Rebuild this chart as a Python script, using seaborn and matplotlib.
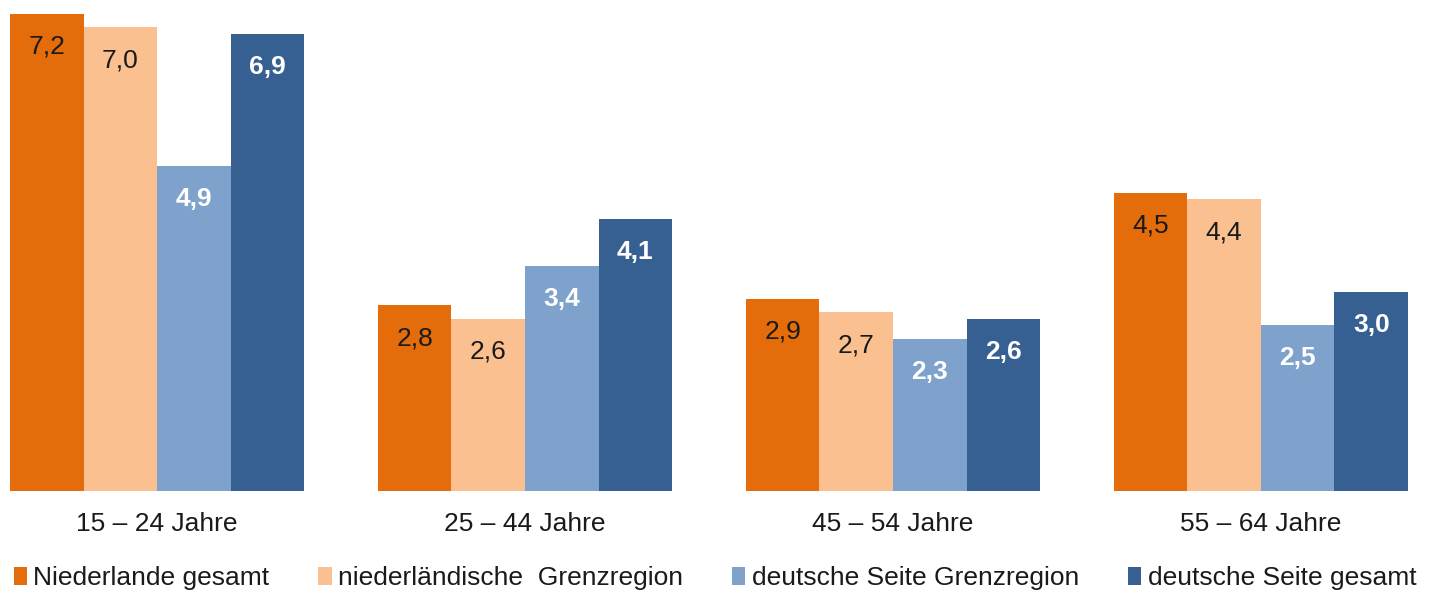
import pandas as pd
import numpy as np
import matplotlib
matplotlib.use("Agg")
import matplotlib.pyplot as plt
import seaborn as sns
from matplotlib.patches import Patch

# data
groups = ["15 – 24 Jahre", "25 – 44 Jahre", "45 – 54 Jahre", "55 – 64 Jahre"]
series = ["Niederlande gesamt", "niederländische  Grenzregion",
          "deutsche Seite Grenzregion", "deutsche Seite gesamt"]
nl_gesamt = [7.2, 2.8, 2.9, 4.5]
nl_grenz = [7.0, 2.6, 2.7, 4.4]
de_grenz = [4.9, 3.4, 2.3, 2.5]
de_gesamt = [6.9, 4.1, 2.6, 3.0]
colors = ["#E46C0A", "#FAC090", "#7EA2CC", "#376092"]
label_colors = ["#1a1a1a", "#1a1a1a", "white", "white"]
label_weights = ["normal", "normal", "bold", "bold"]

rows = []
for s, vals in zip(series, [nl_gesamt, nl_grenz, de_grenz, de_gesamt]):
    for g, v in zip(groups, vals):
        rows.append({"group": g, "series": s, "value": v})
df = pd.DataFrame(rows)

sns.set_style("white")
plt.rcParams["font.family"] = ["Liberation Sans", "DejaVu Sans"]

fig = plt.figure(figsize=(14.5, 5.95), dpi=100)
ax = fig.add_axes([0, 0.1748, 1, 0.8252])

sns.barplot(data=df, x="group", y="value", hue="series", hue_order=series,
            palette=colors, width=0.8, saturation=1, linewidth=0,
            legend=False, ax=ax)

for i, cont in enumerate(ax.containers):
    for bar in cont:
        h = bar.get_height()
        ax.annotate(f"{h:.1f}".replace(".", ","),
                    (bar.get_x() + bar.get_width() / 2, h),
                    xytext=(0, -33), textcoords="offset pixels",
                    ha="center", va="center", fontsize=19,
                    color=label_colors[i], fontweight=label_weights[i])

ax.set_xlim(-0.427, 3.514)
ax.set_ylim(0, 7.41)
ax.set_xlabel("")
ax.set_ylabel("")
ax.set_yticks([])
ax.tick_params(axis="x", length=0, pad=15, labelsize=19, labelcolor="#1a1a1a")
for sp in ax.spines.values():
    sp.set_visible(False)

handles = [Patch(facecolor=c, edgecolor="none") for c in colors]
fig.legend(handles, series, loc="center", bbox_to_anchor=(715 / 1450, 17 / 595),
           ncol=4, frameon=False, fontsize=19, handlelength=0.5,
           handleheight=0.65, handletextpad=0.25, columnspacing=1.85,
           borderaxespad=0, borderpad=0, labelcolor="#1a1a1a")

fig.savefig("out.png", dpi=100)
